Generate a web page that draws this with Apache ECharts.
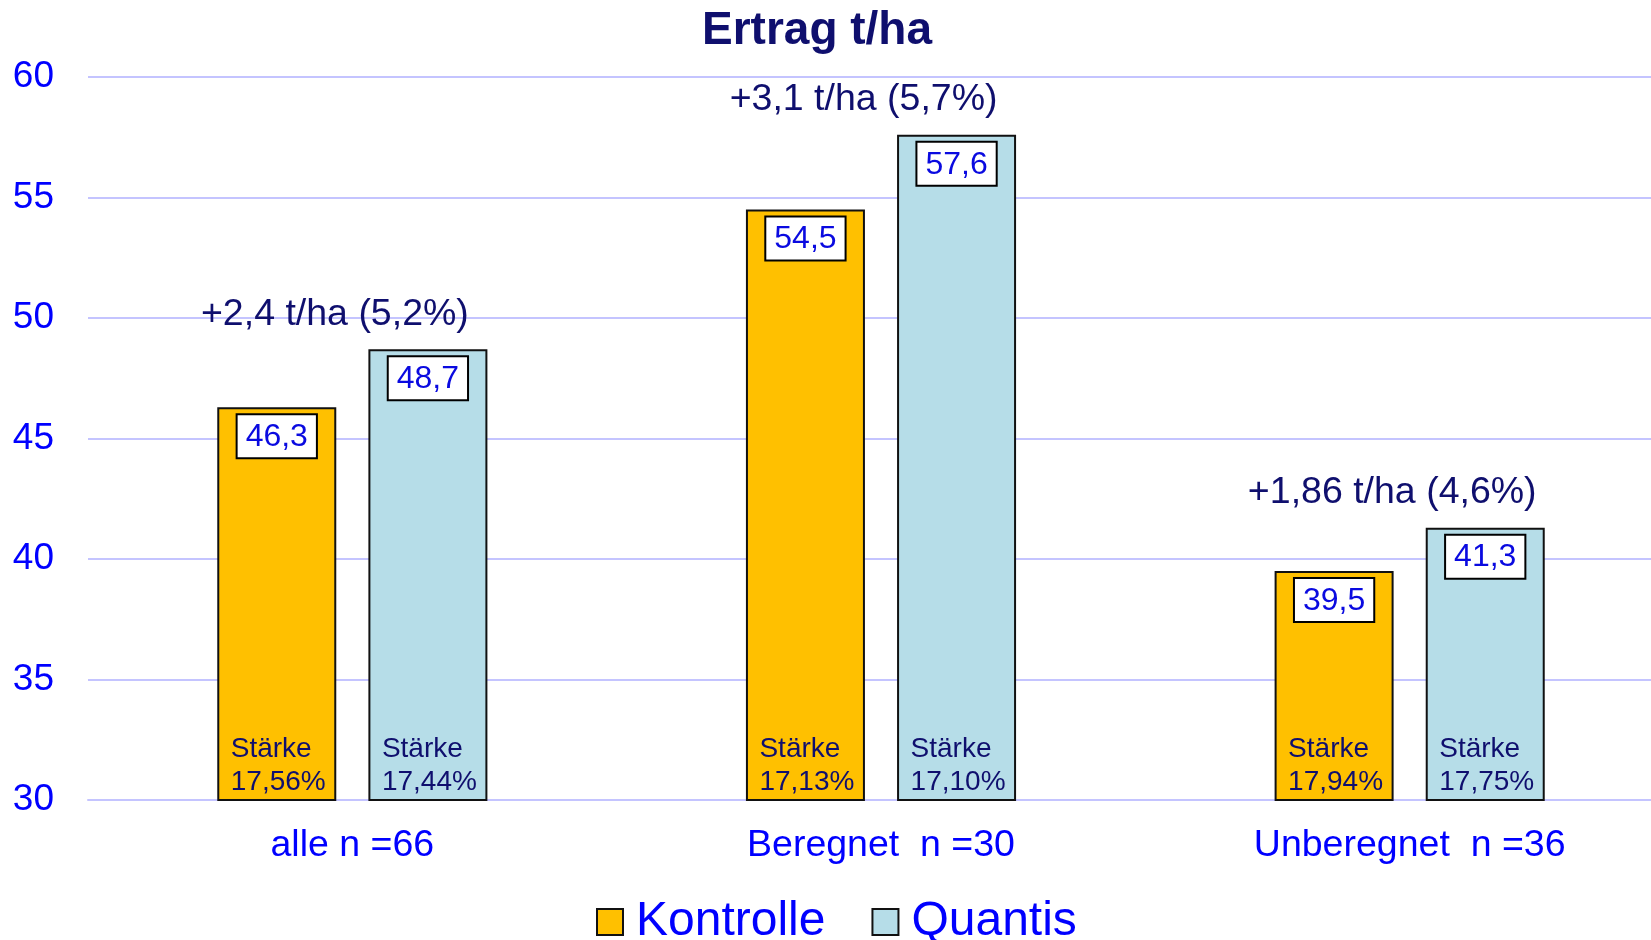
<!DOCTYPE html>
<html>
<head>
<meta charset="utf-8">
<script src="https://cdn.jsdelivr.net/npm/echarts@6/dist/echarts.min.js"></script>
<style>
html,body{margin:0;padding:0;background:#fff;}
#chart{width:1651px;height:940px;}
</style>
</head>
<body>
<div id="chart"></div>
<script>
// Daten
var categories = ["alle n =66", "Beregnet  n =30", "Unberegnet  n =36"];
var kontrolle = [46.3, 54.5, 39.5];
var quantis = [48.7, 57.6, 41.3];
var staerkeKontrolle = ["17,56%", "17,13%", "17,94%"];
var staerkeQuantis = ["17,44%", "17,10%", "17,75%"];
var gains = ["+2,4 t/ha (5,2%)", "+3,1 t/ha (5,7%)", "+1,86 t/ha (4,6%)"];
var yTicks = [30, 35, 40, 45, 50, 55, 60];

var FONT = "'Liberation Sans', Arial, sans-serif";
var NAVY = "#0F0F6E";
var BLUE = "#0000FF";

function fmt(v){
	return String(v.toFixed(1)).replace(".", ",");
}

// Stärke-Beschriftung unten im Balken
function staerkePoints(values, texts){
	return values.map(function(v, i){
		return {
			coord:[i, yTicks[0]],
			label:{formatter:"Stärke\n" + texts[i]}
		};
	});
}

var valueLabel = {
	show:true,
	position:"insideTop",
	distance:8,
	formatter:function(p){ return fmt(p.value); },
	fontFamily:FONT,
	fontSize:32,
	color:"#0A0AE0",
	backgroundColor:"#fff",
	borderColor:"#000",
	borderWidth:2,
	padding:[6, 8, 4, 8]
};

var staerkeLabel = {
	show:true,
	position:"inside",
	align:"left",
	verticalAlign:"bottom",
	offset:[-46, -1],
	fontFamily:FONT,
	fontSize:28,
	lineHeight:33,
	color:NAVY
};

var myChart = echarts.init(document.getElementById("chart"));
var option = {
	animation:false,
	title:{
		text:"Ertrag t/ha",
		left:702,
		top:8,
		padding:0,
		textStyle:{fontFamily:FONT, fontSize:46, fontWeight:"bold", color:NAVY}
	},
	legend:{
		top:893,
		left:591,
		icon:"rect",
		itemWidth:26,
		itemHeight:26,
		itemGap:46,
		textStyle:{fontFamily:FONT, fontSize:48, color:BLUE, padding:[0, 0, 0, 8]}
	},
	grid:{left:88, right:-23, top:77, bottom:140, outerBoundsMode:"none"},
	xAxis:{
		type:"category",
		data:categories,
		axisLine:{lineStyle:{color:"#C4C4FF", width:2}},
		axisTick:{show:false},
		axisLabel:{fontFamily:FONT, fontSize:37.5, color:BLUE, margin:27}
	},
	yAxis:{
		type:"value",
		min:30,
		max:60,
		interval:5,
		axisLine:{show:false},
		axisTick:{show:false},
		axisLabel:{fontFamily:FONT, fontSize:37, color:BLUE, margin:34},
		splitLine:{lineStyle:{color:"#C4C4FF", width:2}}
	},
	series:[{
		name:"Kontrolle",
		type:"bar",
		data:kontrolle,
		barWidth:119,
		barGap:"27%",
		itemStyle:{color:"#FFC000", borderColor:"#111", borderWidth:2},
		label:valueLabel,
		markPoint:{
			symbol:"rect",
			symbolSize:1,
			itemStyle:{color:"transparent"},
			label:staerkeLabel,
			data:staerkePoints(kontrolle, staerkeKontrolle)
		}
	},{
		name:"Quantis",
		type:"bar",
		data:quantis,
		barWidth:119,
		barGap:"27%",
		itemStyle:{color:"#B6DDE8", borderColor:"#111", borderWidth:2},
		label:valueLabel,
		markPoint:{
			symbol:"rect",
			symbolSize:1,
			itemStyle:{color:"transparent"},
			label:staerkeLabel,
			data:staerkePoints(quantis, staerkeQuantis).concat(quantis.map(function(v, i){
				// Mehrertrag über der Gruppe
				return {
					coord:[i, v],
					label:{
						formatter:gains[i],
						align:"center",
						verticalAlign:"middle",
						offset:[-93, -35],
						fontSize:37.5,
						lineHeight:42
					}
				};
			}))
		}
	}]
};
myChart.setOption(option);
</script>
</body>
</html>
